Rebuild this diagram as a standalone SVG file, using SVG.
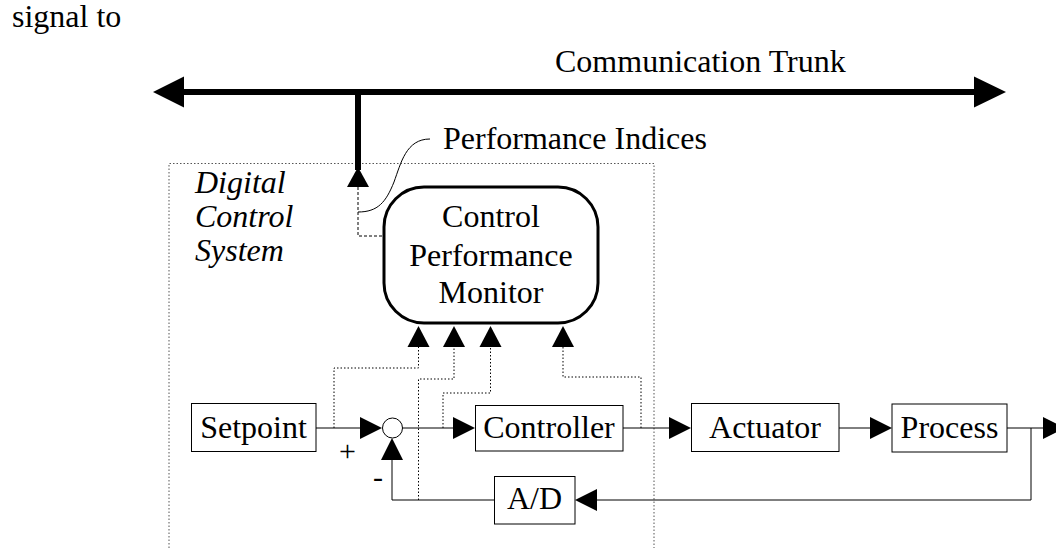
<svg xmlns="http://www.w3.org/2000/svg" width="1056" height="548" viewBox="0 0 1056 548">
<style>
text{font-family:"Liberation Serif","Times New Roman",serif;font-size:32px;fill:#000}
.c{text-anchor:middle}
.it{font-style:italic}
.pm{font-size:30px}
.box{fill:#fff;stroke:#000;stroke-width:1}
.ln{fill:none;stroke:#000;stroke-width:1}
.dot{fill:none;stroke:#000;stroke-width:1;stroke-dasharray:1.5 2}
.dash{fill:none;stroke:#000;stroke-width:1;stroke-dasharray:3 2}
.ah{fill:#000}
</style>
<rect width="1056" height="548" fill="#fff"/>
<text x="12" y="27">signal to</text>
<g id="boundary">
<path d="M169,548 V163.5 H654 V548" fill="none" stroke="#555" stroke-width="1" stroke-dasharray="1.5 2"/>
<text class="it" x="195" y="193">Digital</text>
<text class="it" x="195" y="227">Control</text>
<text class="it" x="195" y="261">System</text>
</g>
<g id="trunk">
<line x1="180" y1="92" x2="978" y2="92" stroke="#000" stroke-width="6"/>
<polygon class="ah" points="153,92 184,76.5 184,107.5"/>
<polygon class="ah" points="1006,92 974,76.5 974,107.5"/>
<text x="555" y="72">Communication Trunk</text>
</g>
<g id="connectors">
<line x1="358" y1="92" x2="358" y2="170" stroke="#000" stroke-width="6"/>
<polygon class="ah" points="358,167 347,187 369,187"/>
<path class="dash" d="M358,187 V236 H383"/>
<path class="ln" d="M430,139 C406,139 401,163 394,182 C386,202 378,212 358,212"/>
<text x="443" y="149">Performance Indices</text>
<line class="ln" x1="316" y1="428" x2="361" y2="428"/>
<polygon class="ah" points="382,428 360,417 360,439"/>
<line class="ln" x1="402" y1="428" x2="454" y2="428"/>
<polygon class="ah" points="475,428 453,417 453,439"/>
<line class="ln" x1="623" y1="428" x2="670" y2="428"/>
<polygon class="ah" points="691,428 669,417 669,439"/>
<line class="ln" x1="839" y1="428" x2="870" y2="428"/>
<polygon class="ah" points="892,428 870,417 870,439"/>
<line class="ln" x1="1007" y1="428" x2="1044" y2="428"/>
<polygon class="ah" points="1065,428 1043,417 1043,439"/>
<path class="ln" d="M1031,428 V500 H596"/>
<polygon class="ah" points="575,500 597,489 597,511"/>
<path class="ln" d="M494,500 H392 V459"/>
<polygon class="ah" points="392,438 381,460 403,460"/>
<text class="pm" x="339" y="461">+</text>
<text class="pm" x="373" y="487">-</text>
<path class="dot" d="M334,428 V368 H418.5 V346"/>
<path class="dot" d="M418.5,500 V379 H454 V346"/>
<path class="dot" d="M443,428 V393 H490.5 V346"/>
<path class="dot" d="M641,428 V377 H563 V346"/>
<polygon class="ah" points="418.5,326 407.5,347 429.5,347"/>
<polygon class="ah" points="454,326 443,347 465,347"/>
<polygon class="ah" points="490.5,326 479.5,347 501.5,347"/>
<polygon class="ah" points="563,326 552,347 574,347"/>
</g>
<g id="monitor">
<rect x="384" y="187" width="214" height="136" rx="40" ry="40" fill="#fff" stroke="#000" stroke-width="3"/>
<text class="c" x="491" y="227">Control</text>
<text class="c" x="491" y="266">Performance</text>
<text class="c" x="491" y="303">Monitor</text>
</g>
<g id="setpoint">
<rect class="box" x="191.5" y="403.5" width="124.5" height="48"/>
<text class="c" x="253.5" y="438">Setpoint</text>
</g>
<g id="sum">
<circle cx="392.5" cy="428" r="10" fill="#fff" stroke="#000" stroke-width="1"/>
</g>
<g id="controller">
<rect class="box" x="475.5" y="405.5" width="147.5" height="45.5"/>
<text class="c" x="549" y="438">Controller</text>
</g>
<g id="actuator">
<rect class="box" x="691.5" y="403.5" width="147.5" height="48"/>
<text class="c" x="765" y="438">Actuator</text>
</g>
<g id="process">
<rect class="box" x="892" y="404" width="115" height="48"/>
<text class="c" x="949.5" y="438">Process</text>
</g>
<g id="ad">
<rect class="box" x="494.5" y="476.5" width="80.5" height="47.5"/>
<text class="c" x="534.5" y="509">A/D</text>
</g>
</svg>
